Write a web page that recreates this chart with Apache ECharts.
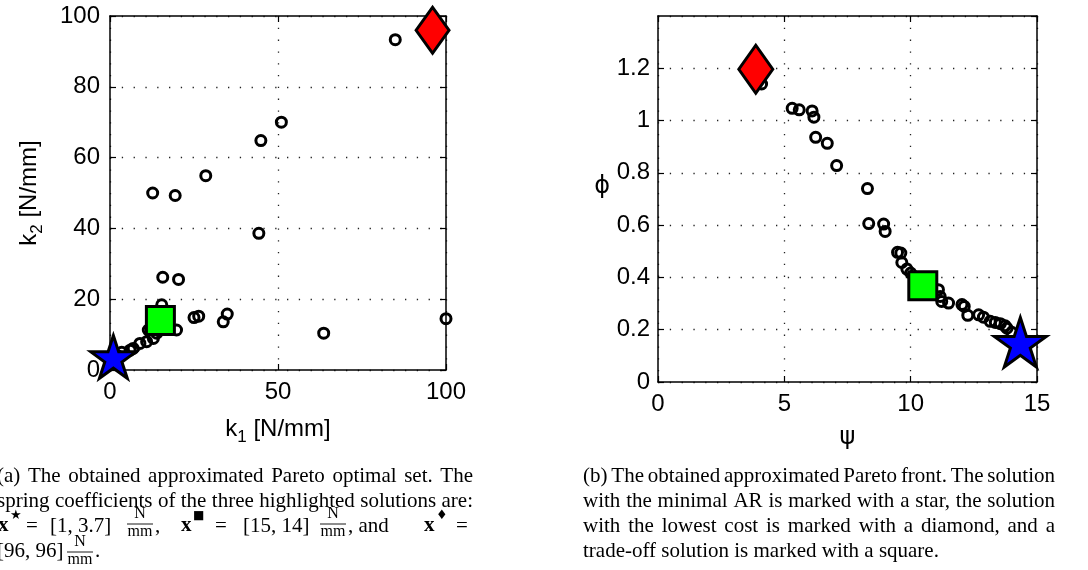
<!DOCTYPE html>
<html><head><meta charset="utf-8">
<script src="https://cdn.jsdelivr.net/npm/echarts@6/dist/echarts.min.js"></script>
<style>html,body{margin:0;padding:0;background:#fff}#c{width:1088px;height:570px}</style>
</head><body><div id="c"></div>
<script>
// ---- data: (a) Pareto optimal set (k1, k2 in N/mm) ----
const setK1 = [84.9, 51.0, 44.9, 28.5, 12.7, 19.4, 44.3, 15.7, 20.4, 25.0, 26.4, 33.7, 34.9, 63.6, 100, 19.8, 15.4, 13.9, 12.9, 10.9, 8.9, 6.9, 6.0, 11.4, 3.5, 2.0];
const setK2 = [93.3, 70.0, 64.8, 54.9, 50.0, 49.3, 38.6, 26.2, 25.6, 14.8, 15.2, 13.6, 15.8, 10.4, 14.5, 11.3, 18.4, 10.4, 8.9, 8.0, 7.5, 6.1, 5.6, 11.3, 5.0, 4.2];
const starK = [1, 3.7];
const squareK = [15, 14];
const diamondK = [96, 96];
// ---- data: (b) Pareto front (psi, phi) ----
const frontPsi = [4.1, 5.31, 5.59, 6.1, 6.17, 6.24, 6.7, 7.07, 8.29, 8.34, 8.93, 8.99, 9.48, 9.61, 9.65, 9.85, 10.0, 10.6, 10.8, 11.1, 11.17, 11.23, 11.5, 12.03, 12.12, 12.26, 12.69, 12.88, 13.15, 13.35, 13.55, 13.74, 13.81, 14.0];
const frontPhi = [1.14, 1.047, 1.041, 1.037, 1.013, 0.936, 0.913, 0.828, 0.740, 0.606, 0.604, 0.576, 0.496, 0.493, 0.457, 0.432, 0.417, 0.39, 0.375, 0.353, 0.327, 0.308, 0.302, 0.296, 0.289, 0.255, 0.257, 0.248, 0.232, 0.228, 0.223, 0.215, 0.206, 0.19];
const starF = [14.34, 0.152];
const squareF = [10.48, 0.368];
const diamondF = [3.87, 1.196];
// ---- axes ----
const k1Ticks = [0, 50, 100];
const k2Ticks = [0, 20, 40, 60, 80, 100];
const psiTicks = [0, 5, 10, 15];
const phiTicks = [0, 0.2, 0.4, 0.6, 0.8, 1, 1.2];
// ---- captions ----
const captionA = [
  "(a) The obtained approximated Pareto optimal set. The",
  "spring coefficients of the three highlighted solutions are:"
];
const captionB = [
  "(b) The obtained approximated Pareto front. The solution",
  "with the minimal AR is marked with a star, the solution",
  "with the lowest cost is marked with a diamond, and a",
  "trade-off solution is marked with a square."
];

const zip = (a, b) => a.map((v, i) => [v, b[i]]);
const STAR = 'path://M100,0 L122.45,69.1 L195.1,69.1 L136.3,111.8 L158.8,180.9 L100,138.2 L41.2,180.9 L63.7,111.8 L4.9,69.1 L77.55,69.1 Z';
const SANS = 'Liberation Sans';
const SERIF = 'Liberation Serif';

const gridLine = {show: true, lineStyle: {color: '#222', width: 1.3, type: [1.3, 10.5]}};
function mainAxis(gridIndex, pos, ticks, extra) {
  return Object.assign({
    type: 'value', gridIndex, position: pos,
    min: ticks[0], interval: ticks[1] - ticks[0],
    axisLine: {show: true, onZero: false, lineStyle: {color: '#000', width: 1.5}},
    axisTick: {show: true, inside: true, length: 6, lineStyle: {color: '#000', width: 1.2}},
    axisLabel: {show: true, color: '#000', fontFamily: SANS, fontSize: 24, margin: 10},
    splitLine: gridLine
  }, extra);
}
function mirrorAxis(gridIndex, pos, ticks, max) {
  return {
    type: 'value', gridIndex, position: pos,
    min: ticks[0], max, interval: ticks[1] - ticks[0],
    axisLine: {show: true, onZero: false, lineStyle: {color: '#000', width: 1.5}},
    axisTick: {show: true, inside: true, length: 6, lineStyle: {color: '#000', width: 1.2}},
    axisLabel: {show: false}, splitLine: {show: false}
  };
}
const subRich = {
  n: {fontFamily: SANS, fontSize: 24, color: '#000', lineHeight: 30},
  s: {fontFamily: SANS, fontSize: 17, color: '#000', lineHeight: 30, padding: [16, 0, 0, 0]}
};

const circleStyle = {color: 'rgba(0,0,0,0)', borderColor: '#000', borderWidth: 3, opacity: 1};
function circles(xi, data) {
  return {type: 'scatter', xAxisIndex: xi, yAxisIndex: xi, data, symbol: 'circle', symbolSize: 10,
    itemStyle: circleStyle, clip: false, silent: true, z: 3};
}
function mark(xi, pt, symbol, size, color) {
  return {type: 'scatter', xAxisIndex: xi, yAxisIndex: xi, data: [pt], symbol, symbolSize: size, symbolKeepAspect: true,
    itemStyle: {color, borderColor: '#000', borderWidth: 3, opacity: 1}, clip: false, silent: true, z: 5};
}

// ---- caption layout helpers ----
const ctx = document.createElement('canvas').getContext('2d');
function measure(t, size, weight) { ctx.font = (weight || 'normal') + ' ' + size + 'px "' + SERIF + '"'; return ctx.measureText(t).width; }
function txt(t, x, y, size, opts) {
  return {type: 'text', x, y, silent: true,
    style: Object.assign({text: t, fontSize: size, fontFamily: SERIF, fill: '#000', align: 'left', verticalAlign: 'middle'}, opts || {})};
}
function justify(line, x0, x1, y, size) {
  const words = line.split(' ');
  const w = words.map(s => measure(s, size));
  const gap = (x1 - x0 - w.reduce((a, b) => a + b, 0)) / (words.length - 1);
  let x = x0; const out = [];
  words.forEach((s, i) => { out.push(txt(s, x, y, size)); x += w[i] + gap; });
  return out;
}
function frac(cx, yN, yBar, yD) {
  return [
    txt('N', cx, yN, 16, {align: 'center'}),
    {type: 'line', silent: true, shape: {x1: cx - 13, y1: yBar, x2: cx + 13, y2: yBar}, style: {stroke: '#000', lineWidth: 0.9}},
    txt('mm', cx, yD, 16, {align: 'center'})
  ];
}
const FS = 21;
let g = [];
g = g.concat(justify(captionA[0], -3, 473, 476, FS));
g = g.concat(justify(captionA[1], -3, 473, 501, FS));
const L3 = 526;
g.push(txt('x', -2, L3, FS, {fontWeight: 'bold'}));
g.push(txt('\u2605', 10, L3 - 10, 13, {fontFamily: 'DejaVu Sans'}));
g.push(txt('=', 26, L3, FS));
g.push(txt('[1, 3.7]', 50, L3, FS));
g = g.concat(frac(140, 514, 524, 532));
g.push(txt(',', 155, L3, FS));
g.push(txt('x', 181, L3, FS, {fontWeight: 'bold'}));
g.push(txt('\u25A0', 193, L3 - 10, 12, {fontFamily: 'DejaVu Sans'}));
g.push(txt('=', 215, L3, FS));
g.push(txt('[15, 14]', 243, L3, FS));
g = g.concat(frac(333, 514, 524, 532));
g.push(txt(', and', 348, L3, FS));
g.push(txt('x', 424, L3, FS, {fontWeight: 'bold'}));
g.push(txt('\u2666', 436, L3 - 10, 13, {fontFamily: 'DejaVu Sans'}));
g.push(txt('=', 456, L3, FS));
const L4 = 551;
g.push(txt('[96, 96]', -3, L4, FS));
g = g.concat(frac(80, 542, 552, 560));
g.push(txt('.', 95, L4, FS));
g = g.concat(justify(captionB[0], 583, 1055, 476, FS));
g = g.concat(justify(captionB[1], 583, 1055, 501, FS));
g = g.concat(justify(captionB[2], 583, 1055, 526, FS));
g.push(txt(captionB[3], 583, 551, FS));

const option = {
  animation: false,
  backgroundColor: '#fff',
  grid: [
    {left: 110, top: 16, width: 336, height: 354, containLabel: false},
    {left: 658, top: 16, width: 379, height: 366, containLabel: false}
  ],
  xAxis: [
    mainAxis(0, 'bottom', k1Ticks, {max: k1Ticks[k1Ticks.length - 1], name: '{n|k}{s|1}{n| [N/mm]}', nameLocation: 'middle', nameGap: 44,
      nameTextStyle: {rich: subRich}}),
    mainAxis(1, 'bottom', psiTicks, {max: psiTicks[psiTicks.length - 1], name: '\u03c8', nameLocation: 'middle', nameGap: 44,
      nameTextStyle: {fontFamily: 'DejaVu Sans', fontSize: 24, color: '#000'}}),
    mirrorAxis(0, 'top', k1Ticks, 100),
    mirrorAxis(1, 'top', psiTicks, 15)
  ],
  yAxis: [
    mainAxis(0, 'left', k2Ticks, {max: k2Ticks[k2Ticks.length - 1], name: '{n|k}{s|2}{n| [N/mm]}', nameLocation: 'middle', nameGap: 66,
      nameTextStyle: {rich: subRich}}),
    mainAxis(1, 'left', phiTicks, {max: 1.4, axisLabel: {show: true, color: '#000', fontFamily: SANS, fontSize: 24, margin: 8, showMaxLabel: false},
      name: '\u03d5', nameLocation: 'middle', nameRotate: 0, nameGap: 48,
      nameTextStyle: {fontFamily: 'DejaVu Sans', fontSize: 24, color: '#000', verticalAlign: 'bottom'}}),
    mirrorAxis(0, 'right', k2Ticks, 100),
    mirrorAxis(1, 'right', phiTicks, 1.4)
  ],
  series: [
    circles(0, zip(setK1, setK2)),
    mark(0, squareK, 'rect', 28, '#00ff00'),
    mark(0, diamondK, 'diamond', [33, 46], '#ff0000'),
    mark(0, starK, STAR, 45, '#0000ff'),
    circles(1, zip(frontPsi, frontPhi)),
    mark(1, squareF, 'rect', 28, '#00ff00'),
    mark(1, diamondF, 'diamond', [34, 48], '#ff0000'),
    mark(1, starF, STAR, 52, '#0000ff')
  ],
  graphic: g
};
const chart = echarts.init(document.getElementById('c'), null, {renderer: 'canvas'});
chart.setOption(option);
</script>
</body></html>
